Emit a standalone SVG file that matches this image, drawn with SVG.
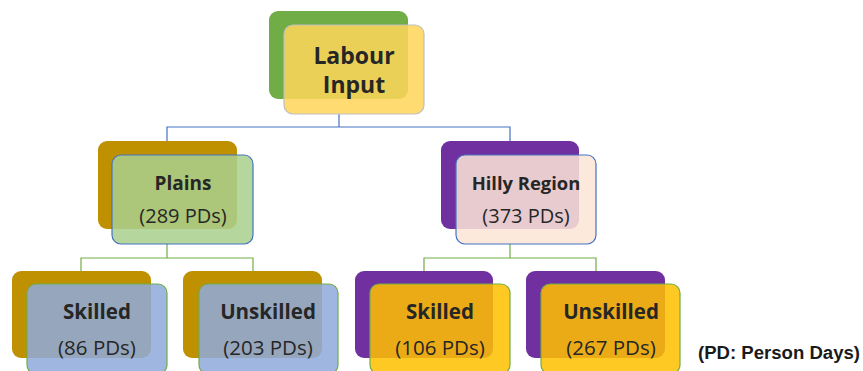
<svg xmlns="http://www.w3.org/2000/svg" width="863" height="371" viewBox="0 0 863 371">
<style>
.back{stroke:none}
.front{fill-opacity:0.86;stroke-width:1.2}
.t{font-family:"Open Sans","Noto Sans","DejaVu Sans",sans-serif;fill:#262626;text-anchor:middle}
.b{font-weight:bold}
.conB{fill:none;stroke:#4472C4;stroke-width:1.2}
.conG{fill:none;stroke:#70AD47;stroke-width:1.2}
.legend{font-family:"Liberation Sans Narrow","Liberation Sans",Arial,sans-serif;font-weight:bold;fill:#1a1a1a}
</style>
<rect width="863" height="371" fill="#FFFFFF"/>
<g id="connectors">
<path class="conB" d="M339 114 V127 M167 143 V127 H510 V143"/>
<path class="conG" d="M167 244 V258 M81 271 V258 H253 V271"/>
<path class="conG" d="M510 244 V258 M424 271 V258 H596 V271"/>
</g>
<g id="labour-input">
<rect class="back" x="269" y="11" width="139" height="88" rx="9" fill="#70AD47"/>
<rect class="front" x="284" y="25" width="140" height="89" rx="9" fill="#FFD55A" stroke="#BFBFBF"/>
<text class="t b" x="354" y="64" font-size="23">Labour</text>
<text class="t b" x="354" y="93" font-size="23">Input</text>
</g>
<g id="plains">
<rect class="back" x="98" y="141" width="139" height="88" rx="9" fill="#BF9000"/>
<rect class="front" x="112" y="155" width="141" height="89" rx="9" fill="#A9D18E" stroke="#4472C4"/>
<text class="t b" x="183" y="190" font-size="19">Plains</text>
<text class="t" x="183" y="223" font-size="20">(289 PDs)</text>
</g>
<g id="hilly-region">
<rect class="back" x="441" y="141" width="138" height="88" rx="9" fill="#7030A0"/>
<rect class="front" x="456" y="155" width="140" height="89" rx="9" fill="#FBE5D6" stroke="#4472C4"/>
<text class="t b" x="526" y="190" font-size="18.4">Hilly Region</text>
<text class="t" x="526" y="223" font-size="20">(373 PDs)</text>
</g>
<g id="plains-skilled">
<rect class="back" x="12" y="271" width="139" height="87" rx="9" fill="#BF9000"/>
<rect class="front" x="27" y="284" width="140" height="90" rx="9" fill="#8FAADC" stroke="#70AD47"/>
<text class="t b" x="97" y="318.5" font-size="20.5">Skilled</text>
<text class="t" x="97" y="355" font-size="20.5">(86 PDs)</text>
</g>
<g id="plains-unskilled">
<rect class="back" x="183" y="271" width="139" height="87" rx="9" fill="#BF9000"/>
<rect class="front" x="199" y="284" width="139" height="90" rx="9" fill="#8FAADC" stroke="#70AD47"/>
<text class="t b" x="268" y="318.5" font-size="20.5">Unskilled</text>
<text class="t" x="268" y="355" font-size="20.5">(203 PDs)</text>
</g>
<g id="hilly-skilled">
<rect class="back" x="355" y="271" width="138" height="87" rx="9" fill="#7030A0"/>
<rect class="front" x="370" y="284" width="140" height="90" rx="9" fill="#FFC000" stroke="#70AD47"/>
<text class="t b" x="440" y="318.5" font-size="20.5">Skilled</text>
<text class="t" x="440" y="355" font-size="20.5">(106 PDs)</text>
</g>
<g id="hilly-unskilled">
<rect class="back" x="526" y="271" width="139" height="87" rx="9" fill="#7030A0"/>
<rect class="front" x="541" y="284" width="139" height="90" rx="9" fill="#FFC000" stroke="#70AD47"/>
<text class="t b" x="611" y="318.5" font-size="20.5">Unskilled</text>
<text class="t" x="611" y="355" font-size="20.5">(267 PDs)</text>
</g>
<text class="legend" x="698" y="359" font-size="18" textLength="162" lengthAdjust="spacingAndGlyphs">(PD: Person Days)</text>
</svg>
